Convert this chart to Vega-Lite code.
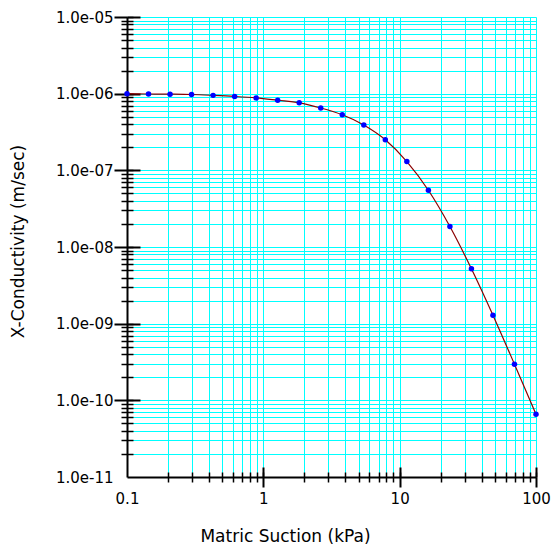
{
  "$schema": "https://vega.github.io/schema/vega-lite/v6.json",
  "width": 409,
  "height": 460,
  "autosize": "none",
  "padding": {"left": 127, "top": 17, "right": 16, "bottom": 71},
  "background": "white",
  "config": {
    "view": {"stroke": null},
    "axis": {"labelFont": "DejaVu Sans", "titleFont": "DejaVu Sans", "labelColor": "black", "titleColor": "black", "titleFontWeight": "normal"}
  },
  "data": {
    "values": [
      {"suction": 0.1, "k": 1.0e-6},
      {"suction": 0.1438, "k": 9.9e-7},
      {"suction": 0.2069, "k": 9.85e-7},
      {"suction": 0.2976, "k": 9.75e-7},
      {"suction": 0.4281, "k": 9.5e-7},
      {"suction": 0.6158, "k": 9.2e-7},
      {"suction": 0.8859, "k": 8.8e-7},
      {"suction": 1.274, "k": 8.2e-7},
      {"suction": 1.833, "k": 7.6e-7},
      {"suction": 2.637, "k": 6.5e-7},
      {"suction": 3.793, "k": 5.3e-7},
      {"suction": 5.456, "k": 3.9e-7},
      {"suction": 7.848, "k": 2.5e-7},
      {"suction": 11.29, "k": 1.3e-7},
      {"suction": 16.24, "k": 5.5e-8},
      {"suction": 23.36, "k": 1.85e-8},
      {"suction": 33.6, "k": 5.2e-9},
      {"suction": 48.33, "k": 1.29e-9},
      {"suction": 69.52, "k": 2.96e-10},
      {"suction": 100, "k": 6.6e-11}
    ]
  },
  "resolve": {"axis": {"x": "independent", "y": "independent"}},
  "layer": [
    {
      "mark": {"type": "point", "opacity": 0},
      "encoding": {
        "x": {"field": "suction", "type": "quantitative",
          "scale": {"type": "log", "domain": [0.1, 100], "nice": false},
          "axis": {"orient": "bottom", "zindex": 0, "labels": false, "domain": false, "title": null,
            "values": [0.2,0.3,0.4,0.5,0.6,0.7,0.8,0.9,1,2,3,4,5,6,7,8,9,10,20,30,40,50,60,70,80,90,100],
            "tickSize": -5, "tickWidth": 1.5, "tickColor": "black",
            "grid": true, "gridColor": "#00FFFF", "gridWidth": 1, "gridOpacity": 1}},
        "y": {"field": "k", "type": "quantitative",
          "scale": {"type": "log", "domain": [1e-11, 1e-5], "nice": false},
          "axis": {"orient": "left", "zindex": 0, "labels": false, "domain": false, "title": null,
            "values": [2e-11,3e-11,4e-11,5e-11,6e-11,7e-11,8e-11,9e-11,1e-10,2e-10,3e-10,4e-10,5e-10,6e-10,7e-10,8e-10,9e-10,1e-9,2e-9,3e-9,4e-9,5e-9,6e-9,7e-9,8e-9,9e-9,1e-8,2e-8,3e-8,4e-8,5e-8,6e-8,7e-8,8e-8,9e-8,1e-7,2e-7,3e-7,4e-7,5e-7,6e-7,7e-7,8e-7,9e-7,1e-6,2e-6,3e-6,4e-6,5e-6,6e-6,7e-6,8e-6,9e-6,1e-5],
            "tickSize": -6, "tickWidth": 1.5, "tickColor": "black",
            "grid": true, "gridColor": "#00FFFF", "gridWidth": 1, "gridOpacity": 1}}
      }
    },
    {
      "mark": {"type": "point", "opacity": 0},
      "encoding": {
        "x": {"field": "suction", "type": "quantitative",
          "scale": {"type": "log", "domain": [0.1, 100], "nice": false},
          "axis": {"orient": "bottom", "zindex": 0, "labels": false, "domain": false, "title": null, "grid": false,
            "values": [0.2,0.3,0.4,0.5,0.6,0.7,0.8,0.9,2,3,4,5,6,7,8,9,20,30,40,50,60,70,80,90],
            "tickSize": 5, "tickWidth": 1.5, "tickColor": "black"}},
        "y": {"field": "k", "type": "quantitative",
          "scale": {"type": "log", "domain": [1e-11, 1e-5], "nice": false},
          "axis": {"orient": "left", "zindex": 0, "labels": false, "domain": false, "title": null, "grid": false,
            "values": [2e-11,3e-11,4e-11,5e-11,6e-11,7e-11,8e-11,9e-11,2e-10,3e-10,4e-10,5e-10,6e-10,7e-10,8e-10,9e-10,2e-9,3e-9,4e-9,5e-9,6e-9,7e-9,8e-9,9e-9,2e-8,3e-8,4e-8,5e-8,6e-8,7e-8,8e-8,9e-8,2e-7,3e-7,4e-7,5e-7,6e-7,7e-7,8e-7,9e-7,2e-6,3e-6,4e-6,5e-6,6e-6,7e-6,8e-6,9e-6],
            "tickSize": 6, "tickWidth": 1.5, "tickColor": "black"}}
      }
    },
    {
      "mark": {"type": "line", "interpolate": "monotone", "color": "#8B0000", "strokeWidth": 1.2},
      "encoding": {
        "x": {"field": "suction", "type": "quantitative",
          "scale": {"type": "log", "domain": [0.1, 100], "nice": false},
          "axis": {"orient": "bottom", "zindex": 0, "grid": false, "values": [0.1, 1, 10, 100], "format": "~g",
            "labelFontSize": 15, "labelPadding": 4, "labelFlush": false,
            "domain": true, "domainColor": "black", "domainWidth": 2,
            "tickSize": 10, "tickWidth": 2, "tickColor": "black",
            "tickOpacity": {"condition": {"test": "datum.value < 0.5", "value": 0}, "value": 1},
            "title": "Matric Suction (kPa)", "titleFontSize": 17, "titleX": 158, "titleY": 64, "titleBaseline": "alphabetic", "titleAlign": "center"}},
        "y": {"field": "k", "type": "quantitative",
          "scale": {"type": "log", "domain": [1e-11, 1e-5], "nice": false},
          "axis": {"orient": "left", "zindex": 0, "grid": false,
            "values": [1e-11, 1e-10, 1e-9, 1e-8, 1e-7, 1e-6, 1e-5],
            "labelExpr": "'1.0e-' + (round(-log(datum.value)/LN10) < 10 ? '0' : '') + round(-log(datum.value)/LN10)",
            "labelFontSize": 15, "labelPadding": 1, "labelFlush": false, "labelBaseline": "middle",
            "domain": true, "domainColor": "black", "domainWidth": 2,
            "tickSize": 13, "tickWidth": 2, "tickColor": "black",
            "tickOpacity": {"condition": {"test": "datum.value < 5e-11", "value": 0}, "value": 1},
            "title": "X-Conductivity (m/sec)", "titleFontSize": 17, "titleX": -104, "titleY": 224, "titleAngle": -90, "titleBaseline": "alphabetic", "titleAlign": "center"}}
      }
    },
    {
      "mark": {"type": "circle", "color": "#0000FF", "opacity": 1, "size": 30},
      "encoding": {
        "x": {"field": "suction", "type": "quantitative",
          "scale": {"type": "log", "domain": [0.1, 100], "nice": false},
          "axis": {"orient": "bottom", "zindex": 0, "labels": false, "domain": false, "title": null, "grid": false,
            "values": [1, 10, 100], "tickSize": -10, "tickWidth": 2, "tickColor": "black"}},
        "y": {"field": "k", "type": "quantitative",
          "scale": {"type": "log", "domain": [1e-11, 1e-5], "nice": false},
          "axis": {"orient": "left", "zindex": 0, "labels": false, "domain": false, "title": null, "grid": false,
            "values": [1e-10, 1e-9, 1e-8, 1e-7, 1e-6, 1e-5], "tickSize": -13, "tickWidth": 2, "tickColor": "black"}}
      }
    }
  ]
}
